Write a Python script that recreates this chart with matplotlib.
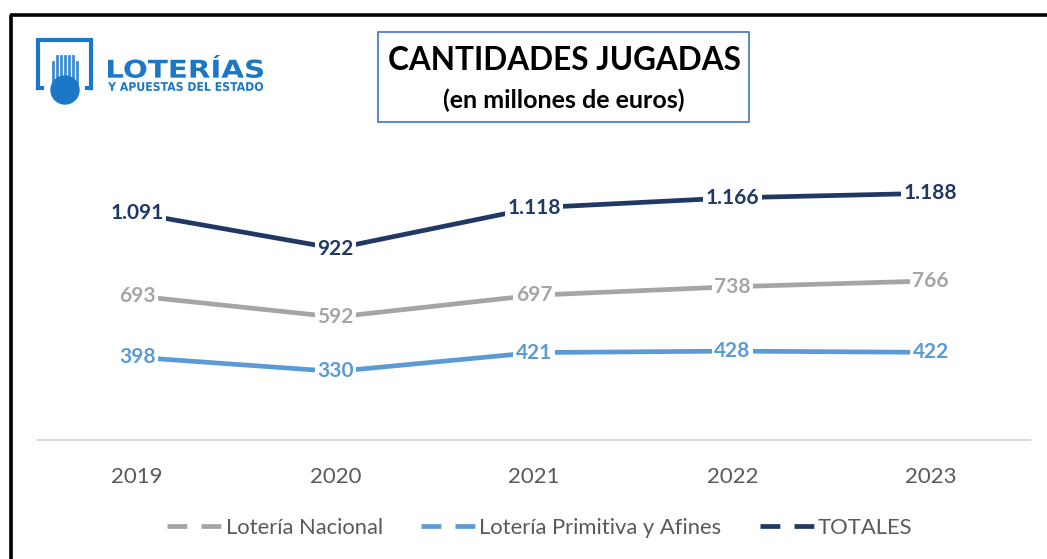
import matplotlib
matplotlib.use("Agg")
import matplotlib.pyplot as plt
from matplotlib.lines import Line2D
from matplotlib.patches import Rectangle, Circle, PathPatch
from matplotlib.textpath import TextPath
from matplotlib.font_manager import FontProperties
from matplotlib.transforms import Affine2D

plt.rcParams['font.family'] = ['Lato', 'DejaVu Sans']

# data (millones de euros)
years = ["2019", "2020", "2021", "2022", "2023"]
nacional = [693, 592, 697, 738, 766]
primitiva = [398, 330, 421, 428, 422]
totales = [1091, 922, 1118, 1166, 1188]

labels_nac = ["693", "592", "697", "738", "766"]
labels_pri = ["398", "330", "421", "428", "422"]
labels_tot = ["1.091", "922", "1.118", "1.166", "1.188"]

C_NAC = "#A5A5A5"
C_PRI = "#5B9BD5"
C_TOT = "#203864"
C_TXT = "#595959"
C_LOGO = "#1B78C6"

W, H = 1047, 559


def fit_text(ax, s, x0, x1, y0, y1, color, weight="bold"):
    # text drawn as a path, stretched into the pixel box (y axis points down)
    tp = TextPath((0, 0), s, size=10, prop=FontProperties(family="DejaVu Sans", weight=weight))
    ext = tp.get_extents()
    t = (Affine2D().translate(-ext.x0, -ext.y1)
         .scale((x1 - x0) / ext.width, -(y1 - y0) / ext.height)
         .translate(x0, y0))
    ax.add_patch(PathPatch(t.transform_path(tp), fc=color, ec="none"))


fig = plt.figure(figsize=(W / 100, H / 100), dpi=100)

# overlay in pixel coordinates for frame, logo and title box
ov = fig.add_axes([0, 0, 1, 1])
ov.set_xlim(0, W)
ov.set_ylim(H, 0)
ov.axis("off")

# outer black frame (top and left visible)
ov.plot([10, W], [15, 15], color="black", lw=2.6, solid_capstyle="butt")
ov.plot([11, 11], [15, H], color="black", lw=2.6, solid_capstyle="butt")

# title box
ov.add_patch(Rectangle((378, 32), 371, 90, fill=False, ec="#4472C4", lw=1.2))
ov.text(564, 60, "CANTIDADES JUGADAS", ha="center", va="center",
        fontsize=22.7, fontweight="bold", color="black")
ov.text(564, 100, "(en millones de euros)", ha="center", va="center",
        fontsize=18, fontweight="bold", color="black")

# logo
ov.plot([38, 38, 91, 91], [88, 40, 40, 88], color=C_LOGO, lw=3, solid_joinstyle="miter")
ov.plot([38, 42], [88, 88], color=C_LOGO, lw=3)
ov.plot([87, 91], [88, 88], color=C_LOGO, lw=3)
ov.add_patch(Circle((65, 90), 14, color=C_LOGO))
for i, xs in enumerate(range(53, 79, 4)):
    top = 56 if 1 <= i <= 5 else 62
    ov.plot([xs, xs], [top, 82], color=C_LOGO, lw=2.0, alpha=0.85)
fit_text(ov, "LOTERÍAS", 108, 263, 55, 78, C_LOGO, weight="heavy")
fit_text(ov, "Y APUESTAS DEL ESTADO", 108, 263, 82, 91, C_LOGO)

# main chart
bottom = (H - 440) / H
ax = fig.add_axes([38 / W, bottom, (1030 - 38) / W, 270 / H])
ax.set_xlim(-0.5, len(years) - 0.5)
ax.set_ylim(0, 1300)
ax.patch.set_alpha(0)
for s in ["top", "left", "right"]:
    ax.spines[s].set_visible(False)
ax.spines["bottom"].set_color("#D9D9D9")
ax.spines["bottom"].set_linewidth(1.5)
ax.set_yticks([])
x = list(range(len(years)))
ax.set_xticks(x)
ax.set_xticklabels(years, fontsize=16, color=C_TXT)
ax.tick_params(axis="x", length=0, pad=19.5)

series = [
    (nacional, labels_nac, C_NAC, "Lotería Nacional"),
    (primitiva, labels_pri, C_PRI, "Lotería Primitiva y Afines"),
    (totales, labels_tot, C_TOT, "TOTALES"),
]
handles = []
for vals, labs, col, name in series:
    ax.plot(x, vals, color=col, lw=3.4, solid_capstyle="butt", zorder=2)
    for xi, v, lab in zip(x, vals, labs):
        ax.text(xi, v, lab, ha="center", va="center", fontsize=15,
                fontweight="bold", color=col, zorder=3,
                bbox=dict(boxstyle="square,pad=0.12", fc="white", ec="none"))
    handles.append(Line2D([0], [0], color=col, lw=3.4, linestyle=(0, (4.2, 3.0))))

fig.legend(handles, [s[3] for s in series], loc="center",
           bbox_to_anchor=(540 / W, (H - 528) / H),
           ncol=3, frameon=False, fontsize=15.8, labelcolor=C_TXT,
           handlelength=2.5, handletextpad=0.15, columnspacing=1.75)

fig.savefig("out.png", dpi=100)
